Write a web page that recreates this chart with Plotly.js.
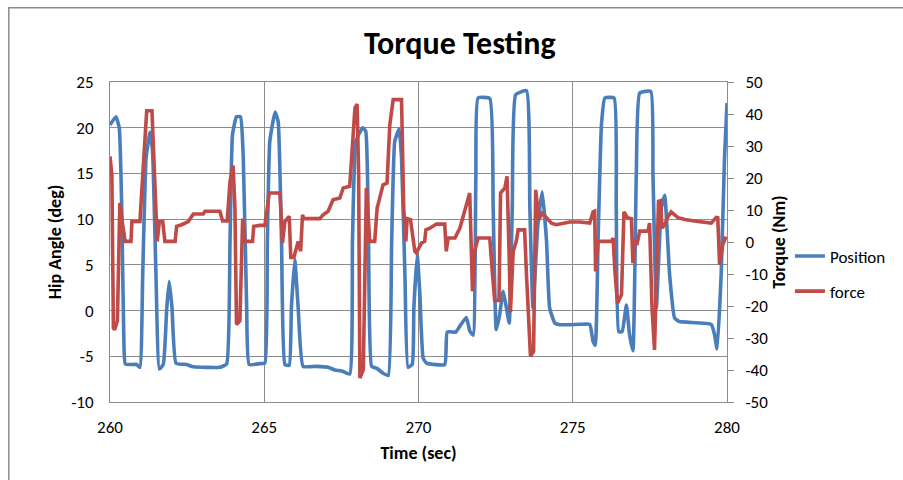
<!DOCTYPE html>
<html>
<head>
<meta charset="utf-8">
<script src="https://cdn.plot.ly/plotly-3.0.1.min.js"></script>
<style>html,body{margin:0;padding:0;background:#fff;}#chart{width:903px;height:480px;}</style>
</head>
<body>
<div id="chart"></div>
<script>
// Position series (Hip Angle, deg)
var posTime = [260.00,260.19,260.30,260.38,260.45,260.50,260.86,260.97,261.06,261.17,261.30,261.38,261.49,261.60,261.73,261.84,261.92,262.01,262.14,262.48,262.70,263.56,263.78,263.89,263.97,264.10,264.23,264.32,264.43,264.51,264.86,
265.02,265.10,265.18,265.35,265.45,265.56,265.67,265.81,265.88,265.99,266.10,266.26,266.70,267.07,267.29,267.51,267.77,267.86,267.97,268.19,268.29,268.38,268.48,268.64,268.85,269.02,269.13,269.23,269.37,269.45,269.56,269.66,269.80,
269.85,269.96,270.04,270.15,270.26,270.85,270.93,271.21,271.34,271.55,271.66,271.77,271.86,271.93,272.31,272.42,272.52,272.63,272.74,272.85,272.94,273.04,273.15,273.50,273.61,273.71,273.87,274.01,274.15,274.25,274.42,274.58,275.23,
275.55,275.66,275.73,275.82,275.93,276.04,276.34,276.41,276.49,276.60,276.74,276.84,276.95,277.06,277.17,277.53,277.60,277.71,277.87,277.98,278.14,278.30,278.46,279.49,279.60,279.68,279.81,279.92,280.00];
var posValue = [20.3,21.2,20.0,11.2,-3.4,-5.85,-5.9,-6.2,3.9,16.7,19.5,17.4,3.9,-6.4,-5.85,0.3,3.2,0.3,-5.75,-5.9,-6.15,-6.2,-5.85,7.6,19.2,21.2,21.2,16.7,0.3,-5.9,-5.8,
-5.75,7.6,18.5,21.7,20.7,7.6,-5.9,-6.0,0.3,5.56,0.3,-6.1,-6.1,-6.2,-6.5,-6.6,-6.95,7.6,18.5,20.0,19.6,7.6,-6.1,-6.3,-6.85,-7.1,7.6,18.5,19.85,16.7,3.9,-6.2,-5.85,
0.3,6.1,2.1,-5.2,-5.75,-5.9,-2.35,-2.35,-1.7,-0.75,-2.2,-2.7,14.9,23.25,23.2,11.2,-2.1,-0.45,2.1,0.3,-1.37,11.2,23.6,24.05,11.2,0.3,9.4,13.0,7.6,0.3,-1.37,-1.55,-1.5,
-1.5,-3.4,-3.8,7.6,20.3,23.25,23.25,11.2,-2.3,-2.3,0.6,-2.6,-4.4,14.9,23.8,23.97,14.9,0.3,11.2,12.6,3.9,-0.8,-1.2,-1.5,-2.7,-4.2,3.9,16.7,22.7];

// force series (Torque, Nm)
var forceTime = [260.00,260.06,260.11,260.15,260.24,260.32,260.41,260.49,260.68,260.71,260.97,261.06,261.19,261.36,261.43,261.53,261.60,261.71,261.78,262.11,262.16,262.32,262.54,262.70,263.02,263.08,263.56,263.65,263.80,263.89,263.99,264.05,264.10,264.21,264.30,264.37,264.62,264.66,264.86,
265.02,265.10,265.16,265.51,265.56,265.59,265.67,265.81,265.86,265.96,266.10,266.18,266.24,266.28,266.80,266.91,267.07,267.23,267.45,267.56,267.77,267.86,267.94,268.01,268.06,268.10,268.21,268.31,268.42,268.58,268.66,268.85,268.98,269.07,269.18,269.45,269.52,269.59,269.63,269.74,269.88,
269.93,270.10,270.20,270.24,270.37,270.47,270.58,270.85,270.90,270.96,271.18,271.34,271.50,271.61,271.66,271.75,271.82,271.93,272.31,272.40,272.47,272.61,272.66,272.80,272.87,272.94,272.98,273.07,273.17,273.23,273.44,273.50,273.63,273.73,273.80,273.90,274.01,274.15,274.31,274.47,274.90,275.23,
275.55,275.66,275.71,275.74,275.82,276.25,276.31,276.36,276.45,276.58,276.66,276.77,276.90,276.95,277.01,277.09,277.17,277.44,277.49,277.57,277.65,277.78,277.85,277.89,277.98,278.09,278.19,278.41,278.63,279.06,279.49,279.65,279.70,279.76,279.86,279.97];
var forceValue = [26.75,21.0,-26.9,-27.4,-24.6,12.2,5.4,0.2,0.2,6.4,6.4,21.0,41.0,41.0,21.0,0.2,6.4,6.4,0.2,0.2,4.9,5.4,6.4,8.75,8.75,9.6,9.6,6.6,6.6,18.9,23.9,10.6,-25.8,-24.6,7.3,0.2,0.2,4.9,5.2,
5.2,10.6,15.3,15.3,5.4,-0.3,6.4,8.0,-4.8,-4.8,0.2,-2.9,8.5,7.3,7.3,8.5,9.6,13.2,13.75,16.9,17.4,31.4,41.9,43.1,21.0,-42.5,-39.9,16.9,0.2,0.2,10.6,17.9,18.4,36.7,44.5,44.5,10.6,0.2,7.3,7.0,-2.9,
-3.4,-0.3,0.2,3.8,4.3,4.9,5.6,5.6,-2.9,1.25,1.25,4.3,9.6,13.2,15.3,-15.4,-2.9,1.25,1.25,-10.2,-18.3,-18.3,15.3,16.9,20.5,-4.8,-21.9,-2.9,0.2,3.8,3.8,-10.2,-35.75,-34.2,16.3,7.0,9.0,7.6,5.9,5.4,6.25,6.25,
5.9,9.4,9.6,-9.2,0.2,0.2,1.25,-8.2,-19.1,-16.5,9.4,7.6,7.3,-6.6,0.2,-0.3,3.4,3.4,5.9,-20.6,-33.7,12.7,12.9,4.3,5.4,8.0,9.4,7.6,7.0,6.4,5.9,7.7,7.6,-7.1,-0.9,1.7];

var leftTicks = [-10,-5,0,5,10,15,20,25];
var rightTicks = [-50,-40,-30,-20,-10,0,10,20,30,40,50];
var xTicks = [260,265,270,275,280];

var FONT = 'Carlito, Lato, "Open Sans", sans-serif';
var GRID = '#8c8c8c';

var traces = [
  {x: posTime, y: posValue, name: 'Position', type: 'scatter', mode: 'lines',
   line: {color: '#4a7ebb', width: 3.6, shape: 'spline', smoothing: 0.4}, yaxis: 'y', legendgroup: 'a'},
  {x: forceTime, y: forceValue, name: 'force', type: 'scatter', mode: 'lines',
   line: {color: '#be4b48', width: 3.6}, yaxis: 'y2', legendgroup: 'b'}
];

var layout = {
  width: 903, height: 480,
  margin: {l: 110, r: 176, t: 82, b: 78},
  paper_bgcolor: '#ffffff', plot_bgcolor: '#ffffff',
  font: {family: FONT, color: '#000000', size: 17},
  title: {text: '<b>Torque Testing</b>', font: {family: FONT, size: 32, color: '#000'},
          xref: 'paper', x: 0.567, xanchor: 'center', yref: 'container', y: 0.91, yanchor: 'middle'},
  xaxis: {range: [260, 280], tickvals: xTicks, ticktext: xTicks.map(String),
          showgrid: true, gridcolor: GRID, gridwidth: 1, zeroline: false,
          showline: true, linecolor: GRID, linewidth: 1, mirror: true, ticks: '',
          ticklabelstandoff: 10,
          tickfont: {size: 17}, title: {text: '<b>Time (sec)</b>', font: {size: 18}, standoff: 8}},
  yaxis: {range: [-10, 25], tickvals: leftTicks, ticktext: leftTicks.map(String),
          showgrid: true, gridcolor: GRID, gridwidth: 1, zeroline: false,
          showline: true, linecolor: GRID, linewidth: 1, ticks: '',
          ticklabelstandoff: 12,
          tickfont: {size: 17}, title: {text: '<b>Hip Angle (deg)</b>', font: {size: 18}, standoff: 4}},
  yaxis2: {range: [-50, 50], tickvals: rightTicks, ticktext: rightTicks.map(String),
           overlaying: 'y', side: 'right', showgrid: false, zeroline: false,
           showline: true, linecolor: GRID, linewidth: 1, ticks: 'outside', ticklen: 6, tickcolor: GRID,
           ticklabelstandoff: 8,
           tickfont: {size: 17}, title: {text: '<b>Torque (Nm)</b>', font: {size: 18}, standoff: 5}},
  showlegend: true,
  legend: {x: 1.102, xanchor: 'left', y: 0.40, yanchor: 'middle', bgcolor: 'rgba(0,0,0,0)',
           font: {size: 17}, traceorder: 'grouped', tracegroupgap: 10},
  shapes: [
    {type: 'rect', xref: 'paper', yref: 'paper', x0: -0.164, x1: 1.29, y0: -0.26, y1: 1.232,
     line: {color: '#8c8c8c', width: 1.5}, fillcolor: 'rgba(0,0,0,0)', layer: 'below'}
  ]
};

Plotly.newPlot('chart', traces, layout, {displayModeBar: false, staticPlot: true});
</script>
</body>
</html>
